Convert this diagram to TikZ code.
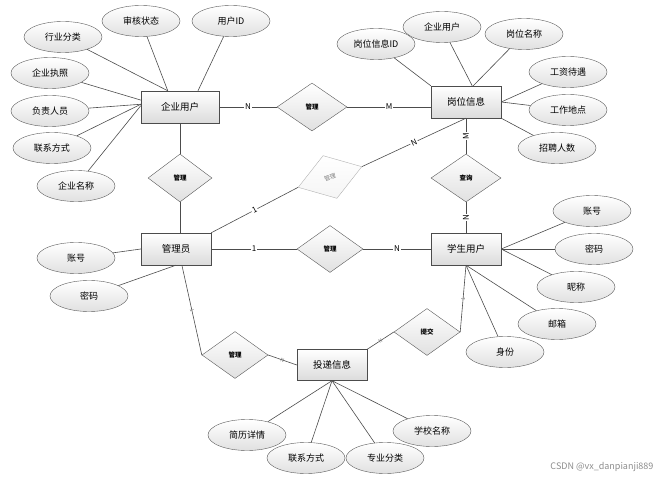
\documentclass[tikz,border=0pt]{standalone}
\usepackage{fontspec}
\setmainfont{Noto Sans CJK SC}
\usetikzlibrary{shapes.geometric}

\begin{document}
\begin{tikzpicture}[
  x=1pt, y=-1pt,
  entity/.style={rectangle,draw=black!70,top color=white,bottom color=black!14,minimum width=70pt,minimum height=32pt,inner sep=1pt,font=\fontsize{9.5}{10}\selectfont},
  attr/.style={ellipse,draw=black!65,top color=white,bottom color=black!12,minimum width=78pt,minimum height=31pt,inner sep=0pt,font=\fontsize{9}{10}\selectfont},
  rel/.style={diamond,draw=black!65,top color=white,bottom color=black!12,minimum width=66pt,minimum height=47pt,inner sep=0pt,font=\fontsize{6.5}{7}\selectfont\bfseries},
  link/.style={draw=black!70,line width=0.6pt},
  card/.style={fill=white,inner sep=1pt,font=\fontsize{8}{8}\selectfont},
  tinycard/.style={inner sep=0.5pt,sloped,text=black!55,font=\fontsize{5}{5}\selectfont}
]
  \useasboundingbox (0,0) rectangle (667,481);

  % entities
  \node[entity,minimum width=78pt] (qy) at (180,107) {企业用户};
  \node[entity] (gw)  at (466,102) {岗位信息};
  \node[entity] (adm) at (176,249) {管理员};
  \node[entity] (xs)  at (466,249) {学生用户};
  \node[entity,minimum height=31pt] (td) at (332,365) {投递信息};

  % relations
  \node[rel,minimum width=70pt,minimum height=48pt] (gl1) at (312,107) {管理};
  \node[rel,minimum width=64pt,minimum height=48pt] (gl2) at (180,178) {管理};
  \node[rel,rotate=18,draw=black!30,text=black!50,bottom color=black!4,minimum width=67pt,minimum height=45pt,font=\fontsize{6}{7}\selectfont] (gl3) at (330,177) {管理};
  \node[rel,minimum width=70pt,minimum height=48pt] (cx) at (466,178) {查询};
  \node[rel] (gl4) at (330,249) {管理};
  \node[rel] (gl5) at (235,355) {管理};
  \node[rel] (tj)  at (427,332) {提交};

  % attributes of 企业用户
  \node[attr] (hyfl)  at (63,37)  {行业分类};
  \node[attr] (shzt)  at (141,21) {审核状态};
  \node[attr] (yhid)  at (231,21) {用户ID};
  \node[attr] (qyzz)  at (50,73)  {企业执照};
  \node[attr] (fzry)  at (50,111) {负责人员};
  \node[attr] (lxfs1) at (52,148) {联系方式};
  \node[attr] (qymc)  at (76,186) {企业名称};

  % attributes of 岗位信息
  \node[attr] (gwid) at (376,44)  {岗位信息ID};
  \node[attr] (qyyh) at (442,27)  {企业用户};
  \node[attr] (gwmc) at (524,34)  {岗位名称};
  \node[attr] (gzdy) at (568,72)  {工资待遇};
  \node[attr] (gzdd) at (568,110) {工作地点};
  \node[attr] (zprs) at (557,148) {招聘人数};

  % attributes of 学生用户
  \node[attr] (zh2) at (592,211) {账号};
  \node[attr] (mm2) at (594,249) {密码};
  \node[attr] (nc)  at (576,287) {昵称};
  \node[attr] (yx)  at (557,324) {邮箱};
  \node[attr] (sf)  at (505,352) {身份};

  % attributes of 管理员
  \node[attr] (zh1) at (76,258) {账号};
  \node[attr] (mm1) at (89,296) {密码};

  % attributes of 投递信息
  \node[attr] (jlxq)  at (247,435) {简历详情};
  \node[attr] (lxfs2) at (306,458) {联系方式};
  \node[attr] (zyfl)  at (385,458) {专业分类};
  \node[attr] (xxmc)  at (432,431) {学校名称};

  \node[font=\fontsize{9}{9}\selectfont,text=black!45,anchor=east] (wm) at (657,467) {CSDN @vx\_danpianji889};

  % attribute links
  \draw[link] (hyfl) -- (qy.127);
  \draw[link] (shzt) -- (qy.127);
  \draw[link] (yhid) -- (qy.42);
  \draw[link] (qyzz) -- (qy.170);
  \draw[link] (fzry) -- (qy.176);
  \draw[link] (lxfs1) -- (qy.176);
  \draw[link] (qymc) -- (qy.178);

  \draw[link] (gwid) -- (gw.north west);
  \draw[link] (qyyh) -- (gw.69);
  \draw[link] (gwmc) -- (gw.66);
  \draw[link] (gzdy) -- (gw.east);
  \draw[link] (gzdd) -- (gw.east);
  \draw[link] (zprs) -- (gw.south east);

  \draw[link] (zh2) -- (xs.east);
  \draw[link] (mm2) -- (xs.east);
  \draw[link] (nc) -- (xs.east);
  \draw[link] (yx) -- (xs.south);
  \draw[link] (sf) -- (xs.south);

  \draw[link] (zh1) -- (adm.west);
  \draw[link] (mm1) -- (adm.south);

  \draw[link] (jlxq) -- (td.south);
  \draw[link] (lxfs2) -- (td.south);
  \draw[link] (zyfl) -- (td.south);
  \draw[link] (xxmc) -- (td.south);

  % relation links
  \draw[link] (qy) -- node[card]{N} (gl1);
  \draw[link] (gl1) -- node[card]{M} (gl1 -| gw.west);
  \draw[link] (qy) -- (gl2);
  \draw[link] (gl2.south) -- (gl2.south |- adm.north);
  \draw[link] (adm.north east) -- node[card,sloped]{1} (gl3.west);
  \draw[link] (gl3.east) -- node[card,sloped]{N} (gw.south);
  \draw[link] (gw) -- node[card,rotate=90]{M} (cx);
  \draw[link] (cx) -- node[card,rotate=90]{N} (xs);
  \draw[link] (adm) -- node[card]{1} (gl4);
  \draw[link] (gl4) -- node[card]{N} (xs);
  \draw[link] (adm.-70) -- node[tinycard]{1} (gl5.west);
  \draw[link] (gl5.east) -- node[tinycard]{N} (td.west);
  \draw[link] (td.north east) -- node[tinycard]{N} (tj.west);
  \draw[link] (tj.east) -- node[tinycard]{1} (xs.south);
\end{tikzpicture}
\end{document}
